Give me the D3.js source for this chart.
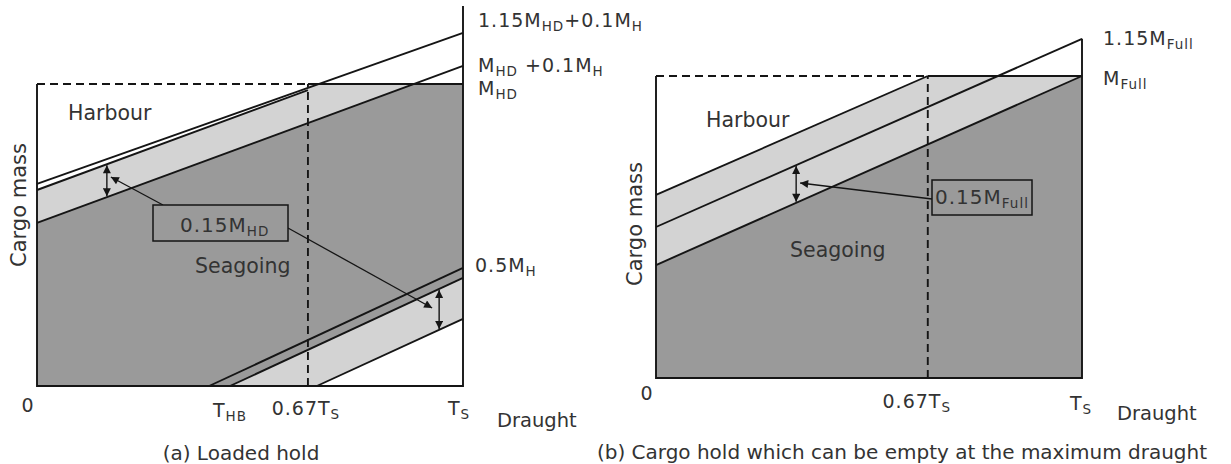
<!DOCTYPE html>
<html><head><meta charset="utf-8">
<script src="https://cdn.jsdelivr.net/npm/d3@7"></script>
<style>
body{margin:0;background:#fff;}
text{font-family:"DejaVu Sans",sans-serif;fill:#333;}
</style></head>
<body><svg id="c" width="1231" height="464"></svg>
<script>
// ---------- Panel (a): Loaded hold (t = draught / T_S, v = mass / M_HD) ----------
const aHarbourUpper  = [[0, 0.669], [1, 1.169]];   // 1.15M_HD + 0.1M_H
const aHarbourInner  = [[0, 0.649], [0.636, 0.980]];
const aSeagoingUpper = [[0, 0.540], [1, 1.060]];   // M_HD + 0.1M_H
const aLowerD        = [[0.404, 0], [1, 0.391]];   // 0.5M_H
const aLowerE        = [[0.453, 0], [1, 0.358]];
const aLowerF        = [[0.657, 0], [1, 0.222]];
const aMHD = 1.0, aT067 = 0.636, aAxisTop = 1.258;
const aTicks = [{t:0, parts:[{t:"0"}], dx:-9, y:412},
                {t:0.453, parts:[{t:"T"},{t:"HB",sub:1}], dx:0, y:417},
                {t:0.636, parts:[{t:"0.67T"},{t:"S",sub:1}], dx:-2, y:415},
                {t:1, parts:[{t:"T"},{t:"S",sub:1}], dx:-4, y:415}];
const aRightLabels = [{v:1.169, parts:[{t:"1.15M"},{t:"HD",sub:1},{t:"+0.1M"},{t:"H",sub:1}], y:27},
                      {v:1.060, parts:[{t:"M"},{t:"HD",sub:1},{t:" +0.1M"},{t:"H",sub:1}], y:72},
                      {v:1.000, parts:[{t:"M"},{t:"HD",sub:1}], y:95},
                      {v:0.391, parts:[{t:"0.5M"},{t:"H",sub:1}], y:272}];

// ---------- Panel (b): hold that can be empty (v = mass / M_Full) ----------
const bHarbourUpper  = [[0, 0.606], [0.638, 1.0]];
const bMid           = [[0, 0.500], [1, 1.123]];   // 1.15M_Full
const bSeagoingUpper = [[0, 0.374], [1, 1.000]];   // M_Full
const bMFull = 1.0, bT067 = 0.638, bAxisTop = 1.123;
const bTicks = [{t:0, parts:[{t:"0"}], dx:-9, y:400},
                {t:0.638, parts:[{t:"0.67T"},{t:"S",sub:1}], dx:-11, y:408},
                {t:1, parts:[{t:"T"},{t:"S",sub:1}], dx:-1, y:410}];
const bRightLabels = [{parts:[{t:"1.15M"},{t:"Full",sub:1}], y:45},
                      {parts:[{t:"M"},{t:"Full",sub:1}], y:85}];

const captions = ["(a) Loaded hold", "(b) Cargo hold which can be empty at the maximum draught"];

// ---------- drawing ----------
const svg = d3.select("#c");
const DARK = "#9a9a9a", LIGHT = "#d3d3d3", INK = "#151515";
const defs = svg.append("defs");
defs.append("marker").attr("id","ah").attr("viewBox","0 0 10 10").attr("refX",10).attr("refY",5)
  .attr("markerWidth",10).attr("markerHeight",8).attr("markerUnits","userSpaceOnUse")
  .attr("orient","auto-start-reverse")
  .append("path").attr("d","M0,0 L10,5 L0,10 z").attr("fill",INK);

function at(seg, t){ const [[t0,v0],[t1,v1]] = seg; return v0 + (v1-v0)*(t-t0)/(t1-t0); }
function tAt(seg, v){ const [[t0,v0],[t1,v1]] = seg; return t0 + (t1-t0)*(v-v0)/(v1-v0); }

function rich(g, x, y, parts, opt){
  opt = opt || {};
  const size = opt.size || 19, sub = opt.sub || 13.5, shift = opt.shift || 3.5;
  const t = g.append("text").attr("x",x).attr("y",y).attr("text-anchor",opt.anchor||"start")
    .attr("font-size",size).attr("letter-spacing",opt.ls==null?1:opt.ls);
  let cur = 0;
  parts.forEach(p=>{
    const want = p.sub ? shift : 0;
    t.append("tspan").attr("dy", want-cur).attr("font-size", p.sub?sub:size).text(p.t);
    cur = want;
  });
  return t;
}

function panel(o){
  const g = svg.append("g");
  const x = d3.scaleLinear().domain([0,1]).range(o.xr);
  const y = d3.scaleLinear().domain([0,1]).range(o.yr);
  const poly = pts => "M" + pts.map(p=>[x(p[0]),y(p[1])].join(",")).join("L") + "Z";
  const line = d3.line().x(d=>x(d[0])).y(d=>y(d[1]));
  o.fills.forEach(f=> g.append("path").attr("d",poly(f.pts)).attr("fill",f.c).attr("stroke","none"));
  o.lines.forEach(s=> g.append("path").attr("d",line(s)).attr("fill","none").attr("stroke",INK).attr("stroke-width",1.9));
  // frame
  g.append("path").attr("d",line([[0,1],[0,0],[1,0],[1,o.axisTop]])).attr("fill","none").attr("stroke",INK).attr("stroke-width",1.9);
  g.append("path").attr("d",line([[o.t067,1],[1,1]])).attr("fill","none").attr("stroke",INK).attr("stroke-width",1.9);
  g.append("path").attr("d",line([[0,1],[o.t067,1]])).attr("fill","none").attr("stroke",INK).attr("stroke-width",1.9).attr("stroke-dasharray","8,5");
  g.append("path").attr("d",line([[o.t067,0],[o.t067,1]])).attr("fill","none").attr("stroke",INK).attr("stroke-width",1.9).attr("stroke-dasharray","8,5");
  return {g,x,y,line};
}

// Panel (a)
const aEnd = tAt(aSeagoingUpper, aMHD);
const A = panel({
  xr:[37,463], yr:[386,84], axisTop:aAxisTop, t067:aT067,
  fills:[
    {c:LIGHT, pts:[[0,0],[0,aHarbourInner[0][1]],[aT067,at(aHarbourInner,aT067)],[aT067,aMHD],[1,aMHD],[1,0]]},
    {c:DARK, pts:[[0,0],[0,aSeagoingUpper[0][1]],[aEnd,aMHD],[1,aMHD],[1,aLowerE[1][1]],[aLowerE[0][0],0]]},
    {c:"#fff", pts:[[aLowerF[0][0],0],[1,aLowerF[1][1]],[1,0]]}
  ],
  lines:[aHarbourUpper, aHarbourInner, aSeagoingUpper, aLowerD, aLowerE, aLowerF]
});
function dbl(P, t, s1, s2){
  P.g.append("line").attr("x1",P.x(t)).attr("x2",P.x(t)).attr("y1",P.y(at(s1,t))+1).attr("y2",P.y(at(s2,t))-1)
   .attr("stroke",INK).attr("stroke-width",1.4).attr("marker-start","url(#ah)").attr("marker-end","url(#ah)");
}
function leader(P, x1,y1,x2,y2){
  P.g.append("line").attr("x1",x1).attr("y1",y1).attr("x2",x2).attr("y2",y2)
   .attr("stroke",INK).attr("stroke-width",1.3).attr("marker-end","url(#ah)");
}
dbl(A, 0.164, aHarbourInner, aSeagoingUpper);
dbl(A, 0.944, aLowerE, aLowerF);
leader(A, 163, 205, A.x(0.164)+4, 177);
leader(A, 288, 228, A.x(0.944)-7, 308);
A.g.append("rect").attr("x",153).attr("y",205).attr("width",135).attr("height",36).attr("fill",DARK).attr("stroke",INK).attr("stroke-width",1.5);
rich(A.g, 180, 232, [{t:"0.15M"},{t:"HD",sub:1}], {size:20});
A.g.append("text").attr("x",68).attr("y",120).attr("font-size",20.5).text("Harbour");
A.g.append("text").attr("x",195).attr("y",273).attr("font-size",20.5).text("Seagoing");
A.g.append("text").attr("transform","translate(26,205) rotate(-90)").attr("text-anchor","middle").attr("font-size",21).text("Cargo mass");
aTicks.forEach(k=> rich(A.g, A.x(k.t)+k.dx, k.y, k.parts, {anchor:"middle"}));
aRightLabels.forEach(k=> rich(A.g, (k.v<0.5?475:478), k.y, k.parts));
A.g.append("text").attr("x",497).attr("y",427).attr("font-size",19.5).text("Draught");
A.g.append("text").attr("x",241).attr("y",460).attr("text-anchor","middle").attr("font-size",20).text(captions[0]);

// Panel (b)
const B = panel({
  xr:[656,1082], yr:[378,76], axisTop:bAxisTop, t067:bT067,
  fills:[
    {c:LIGHT, pts:[[0,0],[0,bHarbourUpper[0][1]],[bT067,bMFull],[1,bMFull],[1,0]]},
    {c:DARK, pts:[[0,0],[0,bSeagoingUpper[0][1]],[1,bSeagoingUpper[1][1]],[1,0]]}
  ],
  lines:[bHarbourUpper, bMid, bSeagoingUpper]
});
dbl(B, 0.329, bMid, bSeagoingUpper);
leader(B, 932, 199, B.x(0.329)+4, 183);
B.g.append("rect").attr("x",932).attr("y",180).attr("width",100).attr("height",35).attr("fill",DARK).attr("stroke",INK).attr("stroke-width",1.5);
rich(B.g, 935, 204, [{t:"0.15M"},{t:"Full",sub:1}], {size:20});
B.g.append("text").attr("x",706).attr("y",127).attr("font-size",20.5).text("Harbour");
B.g.append("text").attr("x",790).attr("y",257).attr("font-size",20.5).text("Seagoing");
B.g.append("text").attr("transform","translate(642,224) rotate(-90)").attr("text-anchor","middle").attr("font-size",21).text("Cargo mass");
bTicks.forEach(k=> rich(B.g, B.x(k.t)+k.dx, k.y, k.parts, {anchor:"middle"}));
bRightLabels.forEach(k=> rich(B.g, 1103, k.y, k.parts));
B.g.append("text").attr("x",1117).attr("y",420).attr("font-size",19.5).text("Draught");
B.g.append("text").attr("x",902).attr("y",459).attr("text-anchor","middle").attr("font-size",20).text(captions[1]);
</script></body></html>
